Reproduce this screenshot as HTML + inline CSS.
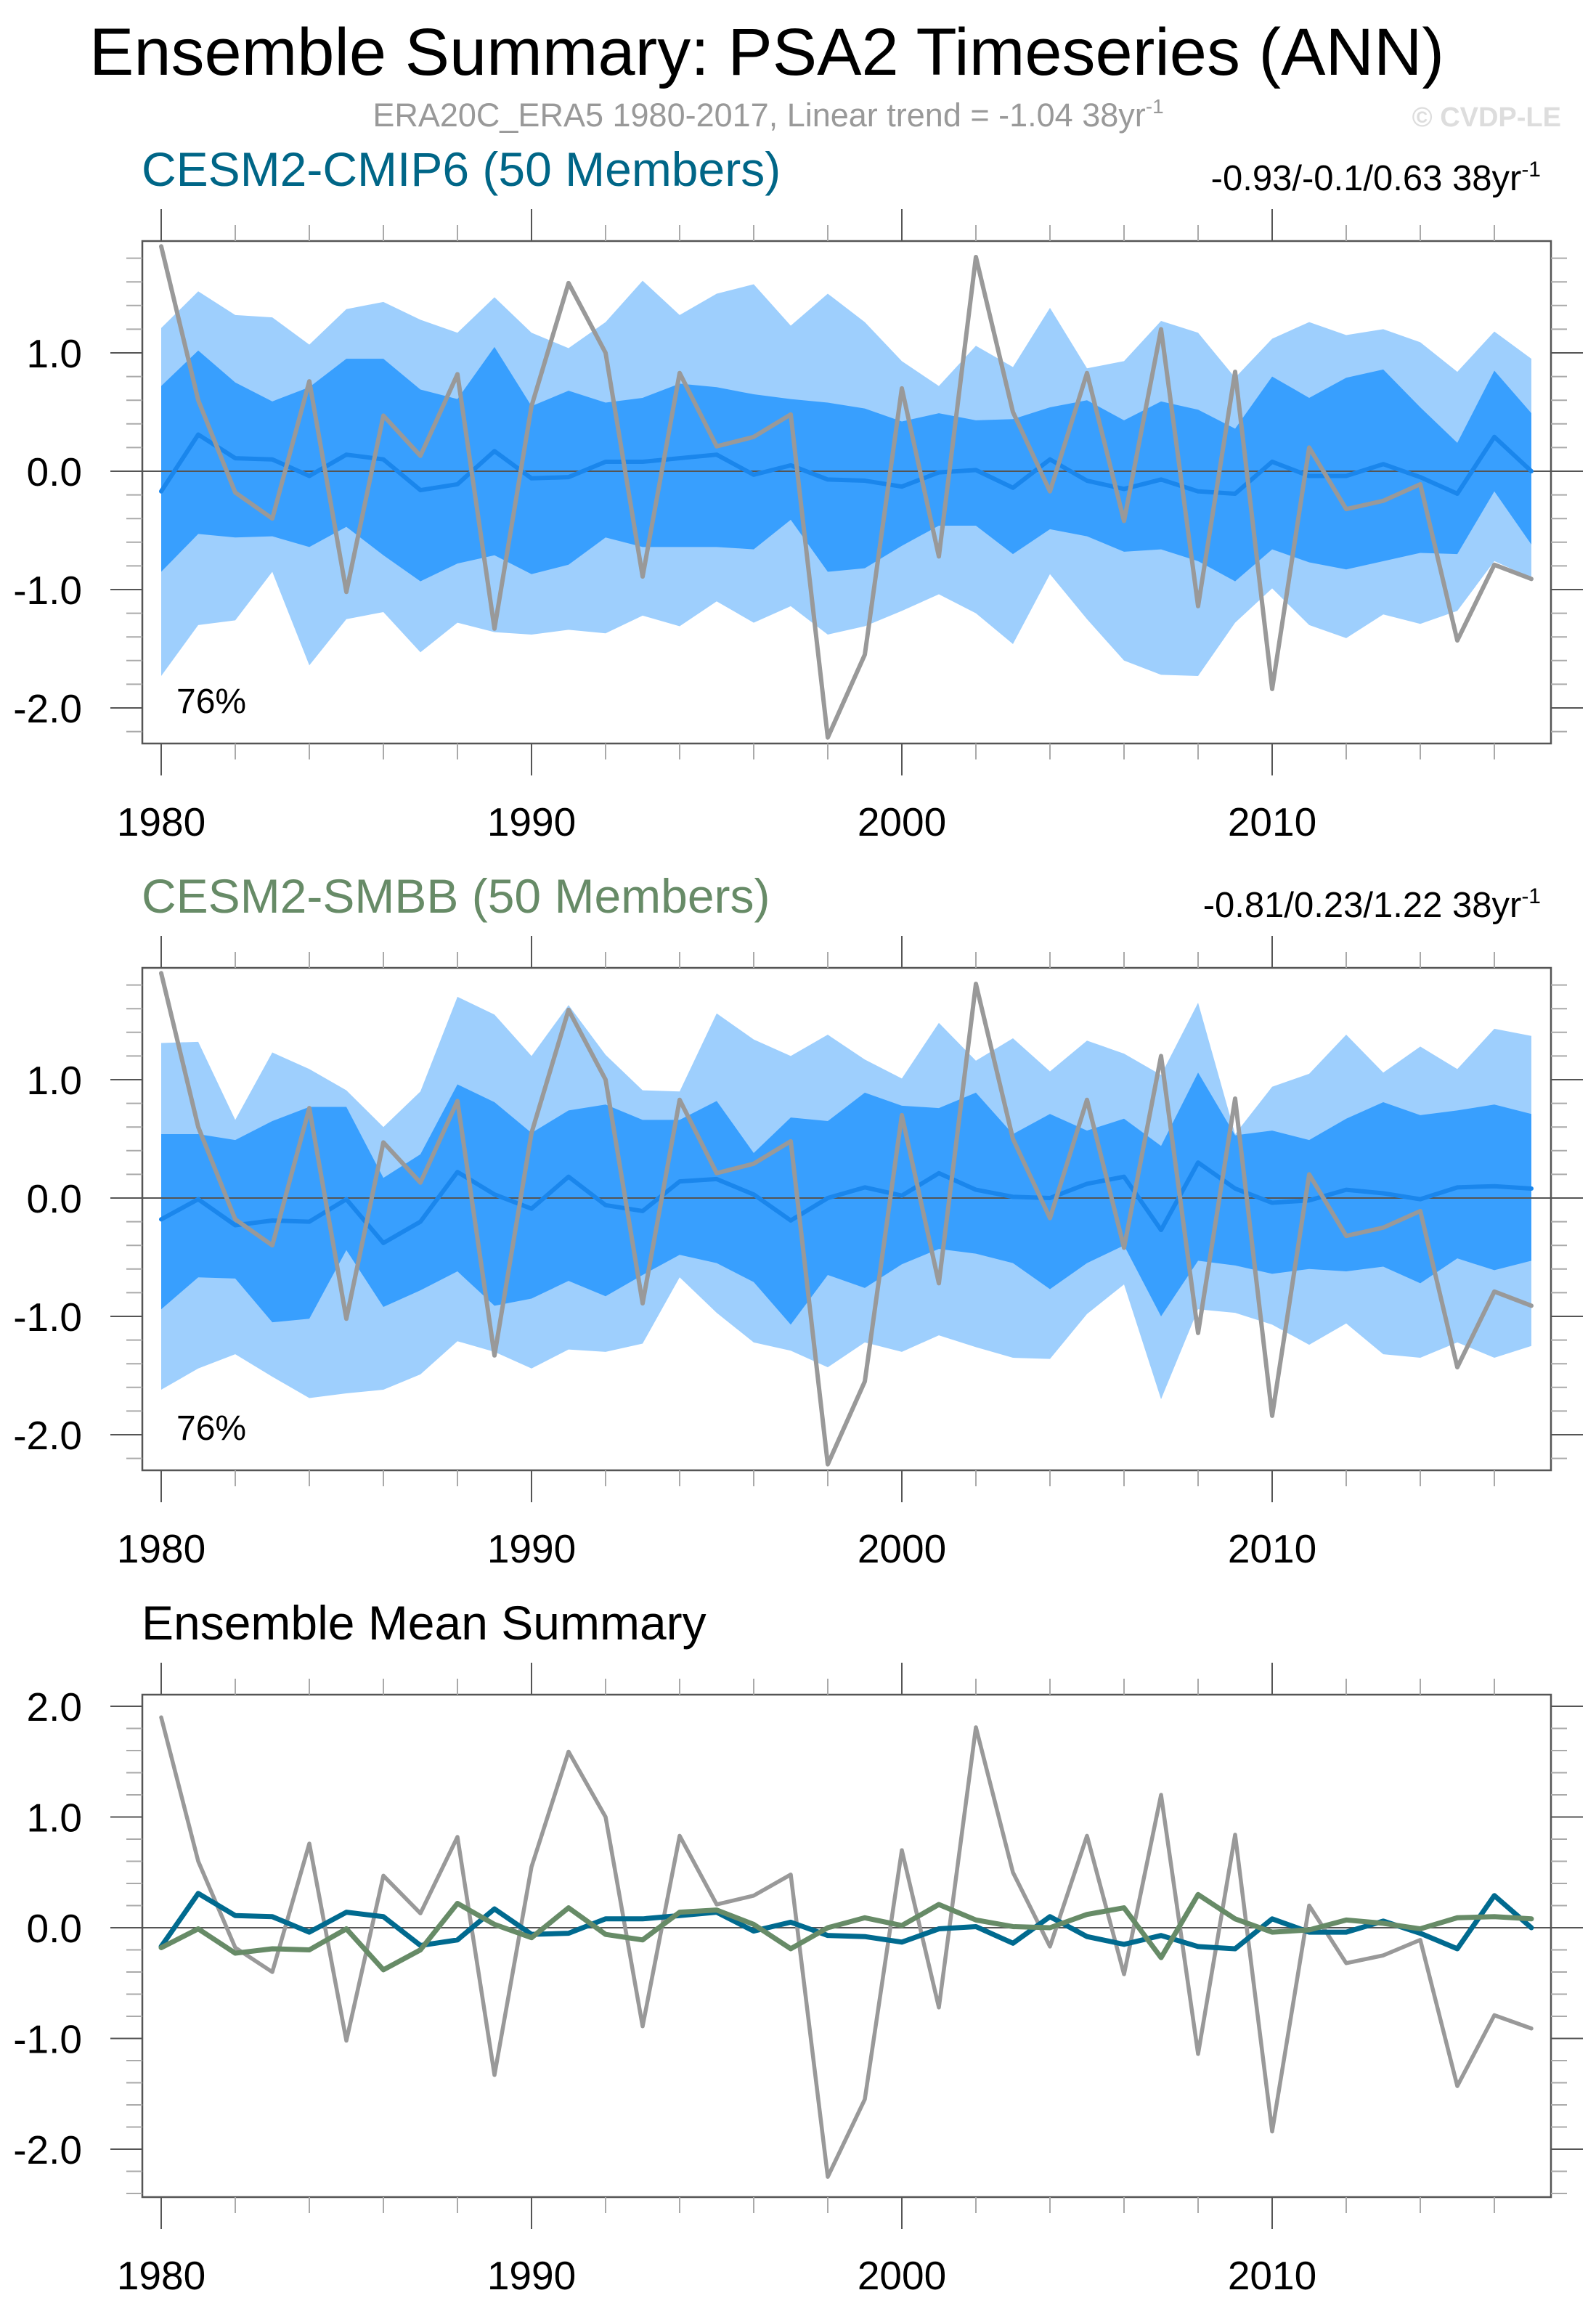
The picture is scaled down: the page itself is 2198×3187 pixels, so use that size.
<!DOCTYPE html>
<html><head><meta charset="utf-8"><style>
html,body{margin:0;padding:0;background:#fff;}
svg{display:block;font-family:"Liberation Sans",Arial,sans-serif;}
</style></head><body>
<svg id="chart" width="2198" height="3187" viewBox="0 0 2198 3187" xmlns="http://www.w3.org/2000/svg">
<rect width="2198" height="3187" fill="#fff"/>
<text x="1056" y="103" font-size="92" text-anchor="middle" fill="#000">Ensemble Summary: PSA2 Timeseries (ANN)</text>
<text x="1058" y="174" font-size="45" text-anchor="middle" fill="#999">ERA20C_ERA5 1980-2017, Linear trend = -1.04 38yr<tspan dy="-18" font-size="28">-1</tspan></text>
<text x="2150" y="174" font-size="38" font-weight="bold" text-anchor="end" fill="#ddd">© CVDP-LE</text>
<text x="195" y="256" font-size="66" fill="#006687">CESM2-CMIP6 (50 Members)</text>
<text x="2122" y="262" font-size="49" text-anchor="end" fill="#000">-0.93/-0.1/0.63 38yr<tspan dy="-19" font-size="30">-1</tspan></text>
<text x="195" y="1257" font-size="66" fill="#678b67">CESM2-SMBB (50 Members)</text>
<text x="2122" y="1263" font-size="49" text-anchor="end" fill="#000">-0.81/0.23/1.22 38yr<tspan dy="-19" font-size="30">-1</tspan></text>
<text x="195" y="2258" font-size="66" fill="#000">Ensemble Mean Summary</text>
<g id="plots"></g>
</svg>
<script>
const years = [1980,1981,1982,1983,1984,1985,1986,1987,1988,1989,1990,1991,1992,1993,1994,1995,1996,1997,1998,1999,2000,2001,2002,2003,2004,2005,2006,2007,2008,2009,2010,2011,2012,2013,2014,2015,2016,2017];
const obs = [1.90,0.60,-0.18,-0.40,0.76,-1.02,0.47,0.13,0.82,-1.33,0.55,1.59,1.00,-0.89,0.83,0.21,0.29,0.48,-2.25,-1.55,0.70,-0.72,1.81,0.50,-0.17,0.83,-0.42,1.20,-1.14,0.84,-1.84,0.20,-0.32,-0.25,-0.11,-1.43,-0.79,-0.91];
const cmipMean = [-0.17,0.31,0.11,0.10,-0.04,0.14,0.10,-0.16,-0.11,0.17,-0.06,-0.05,0.08,0.08,0.11,0.14,-0.03,0.05,-0.07,-0.08,-0.13,-0.01,0.01,-0.14,0.10,-0.08,-0.15,-0.07,-0.17,-0.19,0.08,-0.04,-0.04,0.06,-0.05,-0.19,0.29,0.00];
const cmipHi2 = [1.21,1.52,1.32,1.30,1.07,1.37,1.43,1.28,1.17,1.47,1.17,1.04,1.26,1.61,1.32,1.50,1.58,1.23,1.50,1.26,0.93,0.72,1.06,0.88,1.38,0.87,0.93,1.27,1.17,0.79,1.12,1.26,1.15,1.20,1.09,0.84,1.18,0.95];
const cmipHi1 = [0.72,1.02,0.75,0.59,0.71,0.95,0.95,0.69,0.61,1.05,0.55,0.68,0.58,0.62,0.74,0.71,0.65,0.61,0.58,0.53,0.42,0.49,0.43,0.44,0.54,0.60,0.43,0.59,0.52,0.36,0.80,0.62,0.79,0.86,0.54,0.24,0.85,0.49];
const cmipLo1 = [-0.85,-0.53,-0.56,-0.55,-0.64,-0.47,-0.71,-0.93,-0.78,-0.71,-0.87,-0.79,-0.56,-0.64,-0.64,-0.64,-0.66,-0.41,-0.85,-0.82,-0.63,-0.46,-0.46,-0.70,-0.49,-0.55,-0.68,-0.66,-0.76,-0.93,-0.66,-0.77,-0.83,-0.76,-0.69,-0.70,-0.17,-0.62];
const cmipLo2 = [-1.73,-1.30,-1.26,-0.85,-1.64,-1.25,-1.19,-1.53,-1.28,-1.36,-1.38,-1.34,-1.37,-1.22,-1.31,-1.10,-1.28,-1.14,-1.38,-1.31,-1.18,-1.04,-1.20,-1.46,-0.87,-1.25,-1.60,-1.72,-1.73,-1.28,-0.99,-1.30,-1.41,-1.21,-1.29,-1.18,-0.76,-0.90];
const smbbMean = [-0.18,-0.01,-0.23,-0.19,-0.20,-0.01,-0.38,-0.20,0.22,0.03,-0.09,0.18,-0.06,-0.11,0.14,0.16,0.03,-0.19,0.00,0.09,0.02,0.21,0.07,0.01,0.00,0.12,0.18,-0.27,0.30,0.08,-0.04,-0.02,0.07,0.04,-0.01,0.09,0.10,0.08];
const smbbHi2 = [1.31,1.32,0.66,1.23,1.09,0.91,0.60,0.90,1.70,1.55,1.20,1.63,1.21,0.91,0.90,1.56,1.34,1.20,1.38,1.17,1.01,1.48,1.16,1.35,1.07,1.33,1.22,1.04,1.65,0.54,0.94,1.05,1.38,1.06,1.28,1.09,1.43,1.37];
const smbbHi1 = [0.54,0.54,0.49,0.65,0.77,0.77,0.17,0.37,0.96,0.81,0.55,0.74,0.79,0.66,0.66,0.82,0.38,0.68,0.65,0.89,0.78,0.76,0.89,0.54,0.71,0.57,0.67,0.44,1.06,0.53,0.57,0.49,0.67,0.81,0.70,0.74,0.79,0.71];
const smbbLo1 = [-0.94,-0.67,-0.68,-1.05,-1.02,-0.44,-0.92,-0.78,-0.62,-0.91,-0.85,-0.70,-0.83,-0.65,-0.48,-0.55,-0.71,-1.07,-0.65,-0.76,-0.56,-0.43,-0.47,-0.55,-0.77,-0.55,-0.40,-1.00,-0.53,-0.57,-0.64,-0.60,-0.62,-0.58,-0.72,-0.51,-0.61,-0.53];
const smbbLo2 = [-1.62,-1.44,-1.32,-1.51,-1.69,-1.65,-1.62,-1.49,-1.21,-1.30,-1.44,-1.28,-1.30,-1.23,-0.67,-0.97,-1.22,-1.29,-1.43,-1.22,-1.30,-1.16,-1.26,-1.35,-1.36,-0.98,-0.73,-1.70,-0.94,-0.97,-1.07,-1.24,-1.06,-1.32,-1.35,-1.22,-1.35,-1.25];
const yTicks12 = [1.0,0.0,-1.0,-2.0];
const yTicks3 = [2.0,1.0,0.0,-1.0,-2.0];
const xLabels = [1980,1990,2000,2010];

const NS="http://www.w3.org/2000/svg";
const root=document.getElementById('plots');
function mk(tag,attrs,parent){const e=document.createElementNS(NS,tag);for(const k in attrs)e.setAttribute(k,attrs[k]);(parent||root).appendChild(e);return e;}
const X0=196,X1=2136;
function xs(yr){return 222+51*(yr-1980);}

function panel(id,top,bottom,zeroY,unit,yMin,yMax,ticks,bands,lines,pct){
  const g=mk('g',{});
  
  
  const ys=v=>zeroY-v*unit;
  if(bands){
    const mkBand=(hi,lo,col,name)=>{
      let d='M'+years.map((y,i)=>xs(y)+','+ys(hi[i])).join(' L');
      for(let i=years.length-1;i>=0;i--)d+=' L'+xs(years[i])+','+ys(lo[i]);
      const p=mk('path',{d:d+'Z',fill:col},g);
      
      
    };
    mkBand(bands[0],bands[3],'#9ecffd',id+'-outer-band');
    mkBand(bands[1],bands[2],'#389ffe',id+'-inner-band');
  }
  const z=mk('line',{x1:X0,x2:X1,y1:zeroY,y2:zeroY,stroke:'#555','stroke-width':2},g);
  
  
  lines.forEach(L=>{
    const pl=mk('polyline',{points:years.map((y,i)=>xs(y)+','+ys(L.v[i])).join(' '),fill:'none',stroke:L.c,'stroke-width':L.w,'stroke-linejoin':'round','stroke-linecap':'round'},g);
    
    
  });
  const fr=mk('rect',{x:X0,y:top,width:X1-X0,height:bottom-top,fill:'none',stroke:'#555','stroke-width':2.5},g);
  
  
  for(let k=Math.ceil(yMin*5);k<=Math.floor(yMax*5);k++){
    const v=k/5,yy=ys(v),major=(k%5===0);
    const len=major?44:22,col=major?'#555':'#aaa';
    mk('line',{x1:X0-len,x2:X0,y1:yy,y2:yy,stroke:col,'stroke-width':2},g);
    mk('line',{x1:X1,x2:X1+len,y1:yy,y2:yy,stroke:col,'stroke-width':2},g);
  }
  ticks.forEach(v=>{
    const t=mk('text',{x:113,y:ys(v)+20,'font-size':55,'text-anchor':'end',fill:'#000'},g);
    t.textContent=v.toFixed(1);
    
    
  });
  for(let yr=1980;yr<=2017;yr+=2){
    const major=(yr%10===0),len=major?44:22,col=major?'#555':'#aaa';
    mk('line',{x1:xs(yr),x2:xs(yr),y1:top-len,y2:top,stroke:col,'stroke-width':2},g);
    mk('line',{x1:xs(yr),x2:xs(yr),y1:bottom,y2:bottom+len,stroke:col,'stroke-width':2},g);
  }
  xLabels.forEach(yr=>{
    const t=mk('text',{x:xs(yr),y:bottom+127,'font-size':55,'text-anchor':'middle',fill:'#000'},g);
    t.textContent=String(yr);
    
    
  });
  if(pct){
    const t=mk('text',{x:243,y:top+650,'font-size':48,fill:'#000'},g);
    t.textContent=pct;
    
    
  }
}
panel('cmip6-panel',332,1024,649,163,-2.2,1.9,yTicks12,[cmipHi2,cmipHi1,cmipLo1,cmipLo2],
  [{v:cmipMean,c:'#1a86ec',w:6,n:'cmip6-ensemble-mean-line'},{v:obs,c:'#999',w:6,n:'cmip6-obs-line'}],'76%');
panel('smbb-panel',1333,2025,1650,163,-2.2,1.9,yTicks12,[smbbHi2,smbbHi1,smbbLo1,smbbLo2],
  [{v:smbbMean,c:'#1a86ec',w:6,n:'smbb-ensemble-mean-line'},{v:obs,c:'#999',w:6,n:'smbb-obs-line'}],'76%');
panel('mean-summary-panel',2334,3026,2655,152.5,-2.4,2.1,yTicks3,null,
  [{v:obs,c:'#999',w:5.5,n:'summary-obs-line'},{v:cmipMean,c:'#006a8f',w:7,n:'summary-cmip6-line'},{v:smbbMean,c:'#678b67',w:7,n:'summary-smbb-line'}],null);
</script>
</body></html>
